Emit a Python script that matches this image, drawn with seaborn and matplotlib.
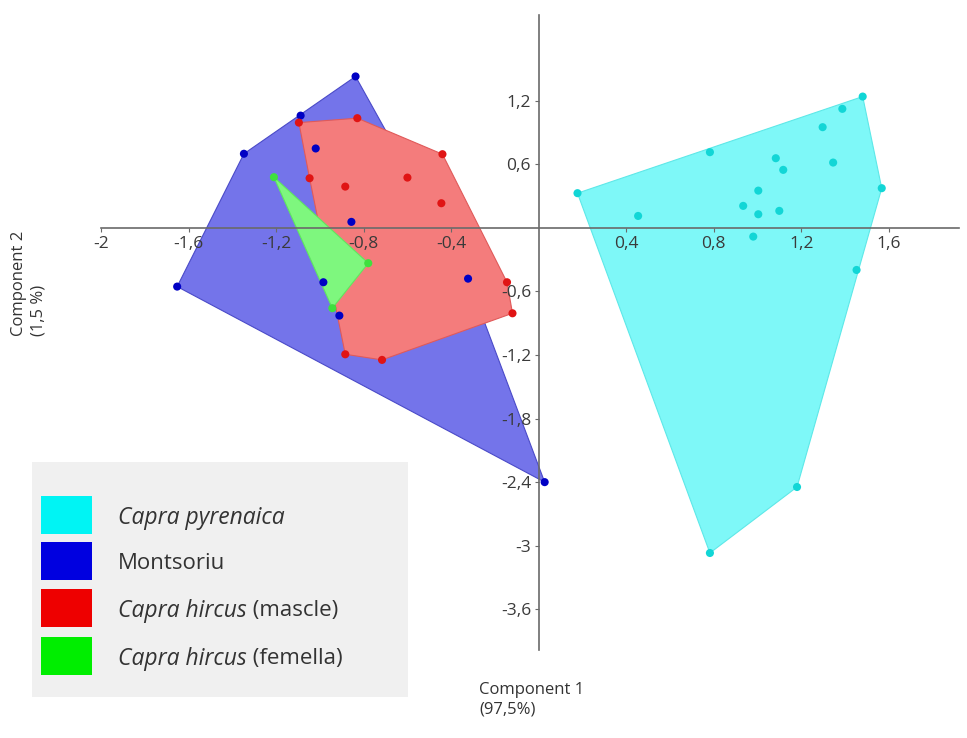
import pandas as pd
import matplotlib
matplotlib.use("Agg")
import matplotlib.pyplot as plt
import seaborn as sns
from matplotlib.patches import Rectangle

# PCA scores (Component 1, Component 2) per group
pyrenaica_pc1 = [1.48, 1.387, 1.297, 0.782, 1.083, 1.117, 1.345, 0.177, 1.567, 1.003,
                 0.934, 1.003, 1.099, 0.454, 0.98, 1.452, 1.18, 0.782]
pyrenaica_pc2 = [1.24, 1.124, 0.951, 0.715, 0.658, 0.548, 0.617, 0.328, 0.375, 0.352,
                 0.208, 0.129, 0.161, 0.113, -0.082, -0.397, -2.446, -3.069]

montsoriu_pc1 = [-0.837, -1.088, -1.347, -1.019, -0.856, -1.652, -0.984, -0.911, -0.323, 0.027]
montsoriu_pc2 = [1.43, 1.06, 0.70, 0.75, 0.057, -0.554, -0.513, -0.828, -0.479, -2.40]

mascle_pc1 = [-1.096, -0.829, -0.44, -1.047, -0.884, -0.60, -0.445, -0.145, -0.12, -0.884, -0.716]
mascle_pc2 = [0.994, 1.036, 0.696, 0.469, 0.39, 0.475, 0.233, -0.513, -0.806, -1.193, -1.246]

femella_pc1 = [-1.21, -0.779, -0.943]
femella_pc2 = [0.479, -0.333, -0.758]

group_keys = ["pyrenaica", "montsoriu", "mascle", "femella"]
legend_italic = ["Capra pyrenaica", "", "Capra hircus", "Capra hircus"]
legend_plain = ["", "Montsoriu", " (mascle)", " (femella)"]

x_ticks = [-2, -1.6, -1.2, -0.8, -0.4, 0.4, 0.8, 1.2, 1.6]
x_tick_labels = ["-2", "-1,6", "-1,2", "-0,8", "-0,4", "0,4", "0,8", "1,2", "1,6"]
y_ticks = [1.2, 0.6, -0.6, -1.2, -1.8, -2.4, -3.0, -3.6]
y_tick_labels = ["1,2", "0,6", "-0,6", "-1,2", "-1,8", "-2,4", "-3", "-3,6"]

point_colors = {"pyrenaica": "#12d6d6", "montsoriu": "#0000c4",
                "mascle": "#e01414", "femella": "#3ee03e"}
fill_colors = {"pyrenaica": "#7ef8f8", "montsoriu": "#7474ea",
               "mascle": "#f47c7c", "femella": "#7ef77e"}
edge_colors = {"pyrenaica": "#5ee8e8", "montsoriu": "#4a4ac8",
               "mascle": "#e05a5a", "femella": "#5ee85e"}
legend_colors = {"pyrenaica": "#00f4f4", "montsoriu": "#0000e0",
                 "mascle": "#ee0000", "femella": "#00ee00"}

df = pd.concat([
    pd.DataFrame({"pc1": pyrenaica_pc1, "pc2": pyrenaica_pc2, "group": "pyrenaica"}),
    pd.DataFrame({"pc1": montsoriu_pc1, "pc2": montsoriu_pc2, "group": "montsoriu"}),
    pd.DataFrame({"pc1": mascle_pc1, "pc2": mascle_pc2, "group": "mascle"}),
    pd.DataFrame({"pc1": femella_pc1, "pc2": femella_pc2, "group": "femella"}),
], ignore_index=True)


def convex_hull(xs, ys):
    pts = sorted(set(zip(xs, ys)))
    if len(pts) <= 2:
        return pts

    def cross(o, a, b):
        return (a[0] - o[0]) * (b[1] - o[1]) - (a[1] - o[1]) * (b[0] - o[0])

    lower, upper = [], []
    for p in pts:
        while len(lower) >= 2 and cross(lower[-2], lower[-1], p) <= 0:
            lower.pop()
        lower.append(p)
    for p in reversed(pts):
        while len(upper) >= 2 and cross(upper[-2], upper[-1], p) <= 0:
            upper.pop()
        upper.append(p)
    return lower[:-1] + upper[:-1]


sns.set_theme(style="white")
plt.rcParams["font.family"] = ["Open Sans", "DejaVu Sans"]

W, H = 967, 738
fig = plt.figure(figsize=(W / 100, H / 100), dpi=100)

x_lo, x_hi = -2.0, 1.92
y_lo, y_hi = -3.98, 2.01
left_px, right_px = 101, 959
top_px, bottom_px = 15, 649.5
ax = fig.add_axes([left_px / W, 1 - bottom_px / H,
                   (right_px - left_px) / W, (bottom_px - top_px) / H])
ax.set_facecolor("none")

# convex hull of each group, drawn in stacking order
for key in group_keys:
    sub = df[df["group"] == key]
    hull = convex_hull(sub["pc1"].tolist(), sub["pc2"].tolist())
    hx, hy = zip(*hull)
    ax.fill(hx, hy, facecolor=fill_colors[key], edgecolor=edge_colors[key],
            linewidth=0.8, zorder=1)

sns.scatterplot(data=df, x="pc1", y="pc2", hue="group", palette=point_colors,
                hue_order=group_keys, s=34, linewidth=0, legend=False, ax=ax, zorder=3)

ax.set_xlim(x_lo, x_hi)
ax.set_ylim(y_lo, y_hi)
for side in ("top", "right"):
    ax.spines[side].set_visible(False)
for side in ("left", "bottom"):
    ax.spines[side].set_position(("data", 0))
    ax.spines[side].set_color("#6a6a6a")
    ax.spines[side].set_linewidth(1.2)
    ax.spines[side].set_zorder(2.5)

ax.set_xticks(x_ticks)
ax.set_xticklabels(x_tick_labels)
ax.set_yticks(y_ticks)
ax.set_yticklabels(y_tick_labels)
ax.tick_params(axis="both", direction="out", length=3, width=0.8, color="#6a6a6a",
               labelsize=12.5, labelcolor="#3a3a3a", pad=2.5)
ax.tick_params(axis="x", bottom=True)
ax.tick_params(axis="y", left=True)
ax.xaxis.set_zorder(4)
ax.yaxis.set_zorder(4)
ax.set_xlabel("")
ax.set_ylabel("")

# axis titles
fig.text(479 / W, 1 - 682 / H, "Component 1\n(97,5%)", ha="left", va="top",
         fontsize=12, color="#333333", multialignment="left", linespacing=1.3)
fig.text(11 / W, 1 - 336 / H, "Component 2\n(1,5 %)", ha="left", va="bottom",
         rotation=90, fontsize=12, color="#333333", multialignment="left",
         linespacing=1.3)

# legend panel
fig.add_artist(Rectangle((32 / W, 1 - 697 / H), (408 - 32) / W, (697 - 462) / H,
                         transform=fig.transFigure, facecolor="#f0f0f0",
                         edgecolor="none", zorder=0))
row_centers = [515, 561, 608, 656]
for key, yc, ital, plain in zip(group_keys, row_centers, legend_italic, legend_plain):
    fig.add_artist(Rectangle((41 / W, 1 - (yc + 19) / H), 51 / W, 38 / H,
                             transform=fig.transFigure, facecolor=legend_colors[key],
                             edgecolor="none", zorder=1))
    x_next = 118
    if ital:
        t = fig.text(x_next / W, 1 - yc / H, ital, ha="left", va="center_baseline",
                     fontsize=16.5, style="italic", color="#333333")
        fig.canvas.draw()
        x_next = t.get_window_extent().x1
    if plain:
        fig.text(x_next / W, 1 - yc / H, plain, ha="left", va="center_baseline",
                 fontsize=16, color="#333333")

fig.savefig("out.png", dpi=100)
